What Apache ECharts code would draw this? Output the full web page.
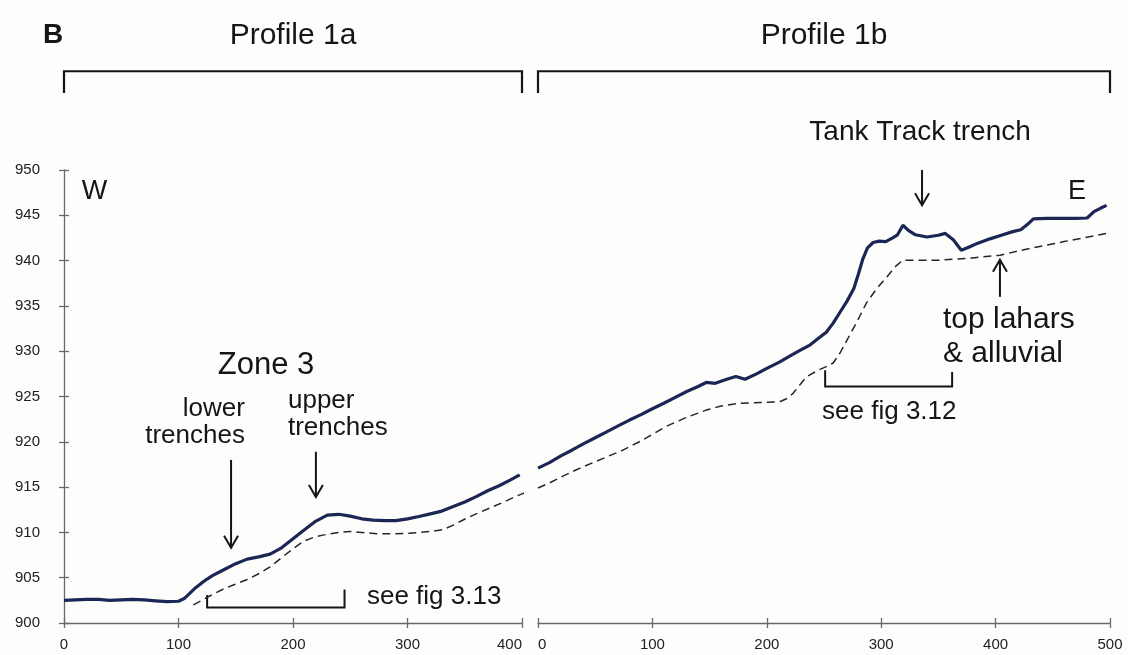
<!DOCTYPE html>
<html>
<head>
<meta charset="utf-8">
<script src="https://cdn.jsdelivr.net/npm/echarts@6/dist/echarts.min.js"></script>
<style>
  html, body { margin: 0; padding: 0; background: #fdfdfb; }
  #chart { width: 1128px; height: 655px; }
</style>
</head>
<body>
<div id="chart"></div>
<script>
// Profile 1a (W section): distance along profile (m) and elevation (m)
const dist1aSurface = [0, 10, 20, 30, 40, 50, 60, 70, 80, 90, 100, 105, 110, 115, 120, 125, 130, 140, 150, 160, 170, 180, 190, 200, 210, 220, 230, 240, 250, 260, 270, 280, 290, 300, 310, 320, 330, 340, 350, 360, 370, 380, 390, 398];
const elev1aSurface = [902.5, 902.55, 902.6, 902.6, 902.5, 902.55, 902.6, 902.55, 902.45, 902.35, 902.4, 902.7, 903.3, 903.9, 904.4, 904.85, 905.25, 905.9, 906.55, 907.05, 907.3, 907.6, 908.3, 909.3, 910.3, 911.25, 911.9, 912.0, 911.8, 911.5, 911.35, 911.3, 911.3, 911.5, 911.75, 912.05, 912.35, 912.85, 913.35, 913.95, 914.6, 915.15, 915.8, 916.35];

// Top of lahars & alluvial under profile 1a (the last point runs on into profile 1b)
const dist1aBed = [113, 126, 140, 148, 160, 171, 180, 191, 200, 209, 218, 226, 240, 250, 260, 273, 290, 302, 320, 331, 340, 349, 360, 372, 385, 395, 400, 414];
const elev1aBed = [902.0, 902.9, 903.8, 904.2, 904.8, 905.5, 906.2, 907.3, 908.2, 909.0, 909.45, 909.7, 910.0, 910.1, 910.0, 909.85, 909.85, 909.9, 910.1, 910.3, 910.8, 911.4, 912.05, 912.7, 913.4, 914.0, 914.25, 914.9];

// Profile 1b (E section)
const dist1bSurface = [0, 10, 20, 30, 40, 50, 60, 70, 80, 90, 100, 110, 120, 130, 140, 147, 155, 165, 173, 181, 191, 200, 211, 220, 229, 238, 246, 252, 258, 264, 270, 276, 280, 284, 288, 293, 298, 304, 310, 314, 319, 324, 330, 340, 350, 356, 363, 370, 377, 384, 395, 405, 415, 422, 428, 433, 445, 460, 470, 480, 486, 492, 497];
const elev1bSurface = [917.1, 917.7, 918.45, 919.1, 919.8, 920.45, 921.1, 921.75, 922.4, 923.0, 923.65, 924.25, 924.9, 925.55, 926.1, 926.55, 926.45, 926.9, 927.2, 926.9, 927.5, 928.1, 928.8, 929.45, 930.1, 930.7, 931.5, 932.1, 933.1, 934.3, 935.5, 936.9, 938.5, 940.2, 941.4, 942.0, 942.15, 942.1, 942.5, 942.8, 943.9, 943.3, 942.85, 942.6, 942.8, 943.0, 942.3, 941.15, 941.5, 941.9, 942.4, 942.8, 943.2, 943.4, 944.0, 944.6, 944.65, 944.65, 944.65, 944.7, 945.4, 945.8, 946.1];

const dist1bBed = [0, 10, 20, 36.7, 50, 74.6, 90, 112, 130, 147, 160, 176, 195, 211, 218, 223, 229, 235, 245, 252, 258, 264, 270, 279, 287, 296, 305, 312, 319, 330, 351, 380, 404, 430, 460, 497];
const elev1bBed = [914.9, 915.45, 916.1, 917.1, 917.8, 919.1, 920.1, 921.7, 922.7, 923.5, 923.95, 924.25, 924.35, 924.4, 924.8, 925.35, 926.3, 927.2, 927.9, 928.3, 928.7, 929.8, 931.2, 933.3, 935.3, 936.9, 938.2, 939.3, 940.05, 940.05, 940.05, 940.3, 940.6, 941.35, 942.1, 943.0];

// Axis ranges and ticks
const yTicks = [900, 905, 910, 915, 920, 925, 930, 935, 940, 945, 950];
const xTicks1a = [0, 100, 200, 300, 400];
const xTicks1b = [0, 100, 200, 300, 400, 500];

const pairs = (xs, ys) => xs.map((x, i) => [x, ys[i]]);

const FONT = "'Liberation Sans', Arial, sans-serif";
const INK = '#151515';
const AXIS = '#6a6a6a';
const SURFACE = '#1b2654';

function xAxisPair(grid, ticks, labelAlign) {
  const base = {
    gridIndex: grid, type: 'value',
    min: ticks[0], max: ticks[ticks.length - 1], interval: 100,
    splitLine: { show: false }, position: 'bottom'
  };
  return [
    Object.assign({}, base, {
      axisLine: { show: true, lineStyle: { color: AXIS, width: 1.3 } },
      axisTick: { show: true, inside: false, length: 5, lineStyle: { color: AXIS, width: 1.3 } },
      axisLabel: Object.assign({ show: true, margin: 14, color: '#222', fontSize: 15, fontFamily: FONT }, labelAlign)
    }),
    Object.assign({}, base, {
      axisLine: { show: false },
      axisTick: { show: true, inside: true, length: 5, lineStyle: { color: AXIS, width: 1.3 } },
      axisLabel: { show: false }
    })
  ];
}

function yAxisPair(grid, show) {
  const base = {
    gridIndex: grid, type: 'value',
    min: yTicks[0], max: yTicks[yTicks.length - 1], interval: 5,
    splitLine: { show: false }, position: 'left'
  };
  if (!show) return [Object.assign({}, base, { show: false })];
  return [
    Object.assign({}, base, {
      axisLine: { show: true, lineStyle: { color: AXIS, width: 1.3 } },
      axisTick: { show: true, inside: false, length: 5, lineStyle: { color: AXIS, width: 1.3 } },
      axisLabel: { show: true, margin: 24, color: '#222', fontSize: 15, fontFamily: FONT }
    }),
    Object.assign({}, base, {
      axisLine: { show: false },
      axisTick: { show: true, inside: true, length: 5, lineStyle: { color: AXIS, width: 1.3 } },
      axisLabel: { show: false }
    })
  ];
}

const chart = echarts.init(document.getElementById('chart'), null, { renderer: 'canvas' });

chart.setOption({
  backgroundColor: '#fdfdfb',
  animation: false,
  grid: [
    { left: 64, top: 170, width: 458, height: 453 },
    { left: 538, top: 170, width: 572, height: 453 }
  ],
  xAxis: [].concat(
    xAxisPair(0, xTicks1a, { alignMaxLabel: 'right' }),
    xAxisPair(1, xTicks1b, { alignMinLabel: 'left' })
  ),
  yAxis: [].concat(yAxisPair(0, true), yAxisPair(1, false)),
  series: [
    {
      name: 'surface 1a', type: 'line', xAxisIndex: 0, yAxisIndex: 0,
      data: pairs(dist1aSurface, elev1aSurface), showSymbol: false, smooth: false,
      lineStyle: { color: SURFACE, width: 3.2 }
    },
    {
      name: 'lahars 1a', type: 'line', xAxisIndex: 0, yAxisIndex: 0, clip: false,
      data: pairs(dist1aBed, elev1aBed), showSymbol: false,
      lineStyle: { color: '#262626', width: 1.5, type: [8, 5] }
    },
    {
      name: 'surface 1b', type: 'line', xAxisIndex: 2, yAxisIndex: 2,
      data: pairs(dist1bSurface, elev1bSurface), showSymbol: false,
      lineStyle: { color: SURFACE, width: 3.2 }
    },
    {
      name: 'lahars 1b', type: 'line', xAxisIndex: 2, yAxisIndex: 2,
      data: pairs(dist1bBed, elev1bBed), showSymbol: false,
      lineStyle: { color: '#262626', width: 1.5, type: [8, 5] }
    }
  ]
});

// ---- annotations, anchored in axis units of each panel ----
function toPx(panel, x, y) {
  const i = panel === 0 ? 0 : 2;
  return chart.convertToPixel({ xAxisIndex: i, yAxisIndex: i }, [x, y]);
}

const graphics = [];

function text(panel, x, y, str, size, align, opts) {
  const p = toPx(panel, x, y);
  graphics.push({
    type: 'text', silent: true,
    style: {
      text: str, x: p[0], y: p[1], fill: INK,
      font: (opts && opts.bold ? 'bold ' : '') + size + 'px ' + FONT,
      textAlign: align, textVerticalAlign: 'middle',
      lineHeight: opts && opts.lineHeight ? opts.lineHeight : size
    }
  });
}

function polyline(points, width, color) {
  graphics.push({
    type: 'polyline', silent: true,
    shape: { points: points },
    style: { stroke: color || INK, lineWidth: width, fill: null, lineJoin: 'miter' }
  });
}

// vertical arrow from y0 to the tip at y1, with an open V head
function arrow(panel, x, y0, y1) {
  const a = toPx(panel, x, y0);
  const b = toPx(panel, x, y1);
  const dir = b[1] > a[1] ? 1 : -1;
  polyline([a, b], 2);
  polyline([[b[0] - 7, b[1] - dir * 12], b, [b[0] + 7, b[1] - dir * 12]], 2);
}

// square bracket opening upwards (figure references)
function bracket(panel, x0, x1, yBase, yTop0, yTop1) {
  polyline([toPx(panel, x0, yTop0), toPx(panel, x0, yBase), toPx(panel, x1, yBase), toPx(panel, x1, yTop1)], 2);
}

// header brackets over the two profile sections
function header(panel, x0, x1, yLine, yFoot, label) {
  polyline([toPx(panel, x0, yFoot), toPx(panel, x0, yLine), toPx(panel, x1, yLine), toPx(panel, x1, yFoot)], 2.2);
  text(panel, (x0 + x1) / 2, 964.8, label, 30, 'center');
}

header(0, 0, 400, 960.9, 958.5, 'Profile 1a');
header(1, 0, 500, 960.9, 958.5, 'Profile 1b');
text(0, -9.6, 964.9, 'B', 28, 'center', { bold: true });

text(0, 26.6, 947.6, 'W', 27, 'center');
text(1, 471.2, 947.6, 'E', 27, 'center');

text(0, 176.4, 928.4, 'Zone 3', 31, 'center');
text(0, 158, 922.2, 'lower\ntrenches', 26, 'right', { lineHeight: 27 });
arrow(0, 145.9, 918.0, 908.3);
text(0, 195.6, 923.0, 'upper\ntrenches', 26, 'left', { lineHeight: 27 });
arrow(0, 220, 918.9, 913.9);
bracket(0, 125, 245, 901.7, 903.1, 903.7);
text(0, 264.6, 902.9, 'see fig 3.13', 26, 'left');

text(1, 334, 954.2, 'Tank Track trench', 28, 'center');
arrow(1, 335.7, 950.0, 946.1);
arrow(1, 403.8, 936.0, 940.1);
text(1, 354, 931.6, 'top lahars\n& alluvial', 30, 'left', { lineHeight: 34 });
bracket(1, 251, 362, 926.1, 927.9, 927.7);
text(1, 248.3, 923.3, 'see fig 3.12', 26, 'left');

chart.setOption({ graphic: graphics });
</script>
</body>
</html>
